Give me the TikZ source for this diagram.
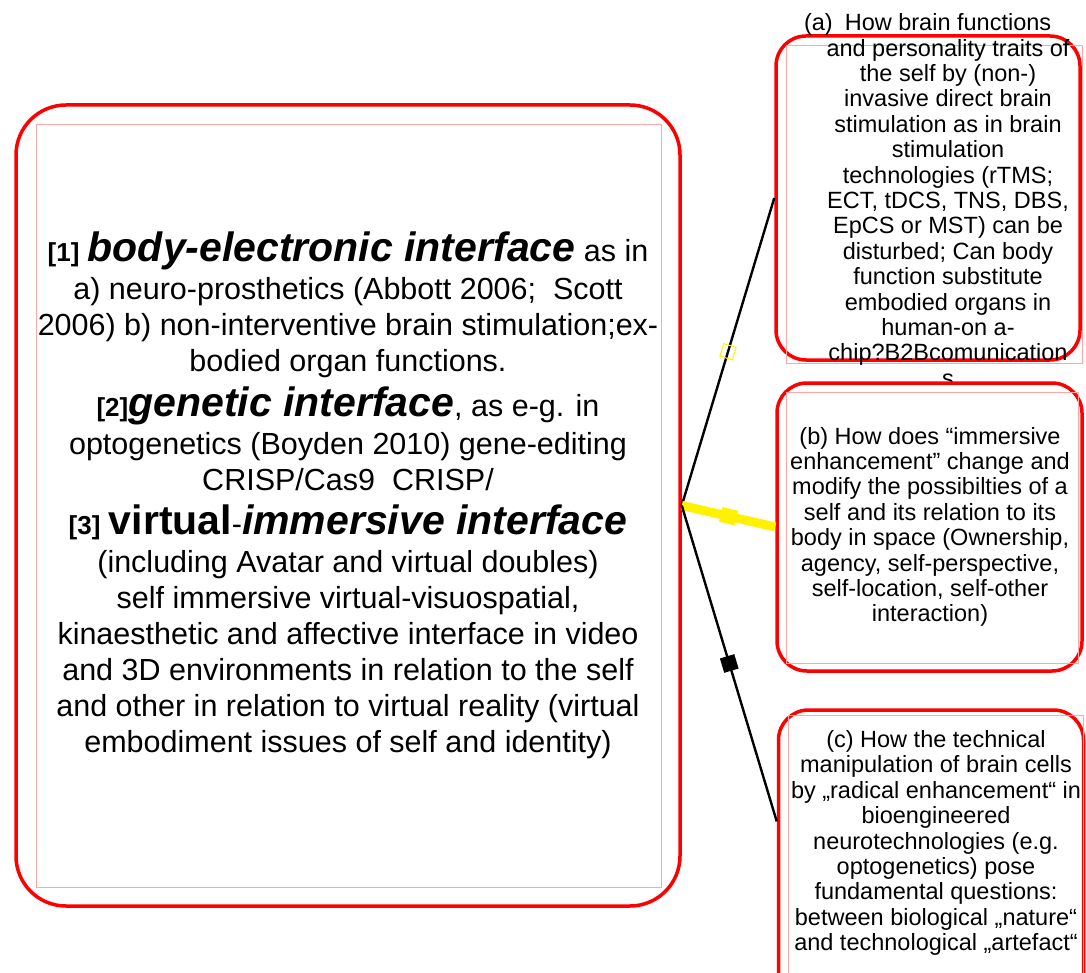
\documentclass[tikz,border=0pt]{standalone}
\usepackage{fontspec}
\setmainfont{Liberation Sans}
\usetikzlibrary{calc}
\newcommand{\tagtxt}[1]{{\bfseries\fontsize{26}{36}\selectfont #1}}
\newcommand{\headtxt}[1]{{\bfseries\itshape\fontsize{41}{36}\selectfont #1}}
\newcommand{\uprighthead}[1]{{\bfseries\fontsize{41}{36}\selectfont #1}}
\begin{document}
\begin{tikzpicture}[x=1pt, y=-1pt,
    redbox/.style={draw=red, line width=3.5pt, rounded corners=#1, inner sep=0pt, fill=white},
    txtframe/.style={draw=red!35, line width=0.8pt},
    qtext/.style={align=center, inner sep=0pt, font=\fontsize{23.5}{25.4}\selectfont},
    blackline/.style={draw=black, line width=2.4pt},
    yellowline/.style={draw=yellow, line width=9pt}]
  \useasboundingbox (0,0) rectangle (1086,973);

  % left box
  \node[redbox=50pt, minimum width=664pt, minimum height=801pt] (main) at (348,505.5) {};
  \draw[txtframe] (36,124) rectangle (661,887);
  \node[align=center, inner sep=0pt, font=\fontsize{30.5}{36}\selectfont, yshift=10pt] (maintext) at (main.center) {%
    \tagtxt{[1]} \headtxt{body-electronic interface} as in\\[2pt]
    a) neuro-prosthetics (Abbott 2006;\ \ Scott\\
    2006) b) non-interventive brain stimulation;ex-\\
    bodied organ functions.\\[8pt]
    \tagtxt{[2]}\headtxt{genetic interface}, as e-g. in\\[2pt]
    optogenetics (Boyden 2010) gene-editing\\
    CRISP/Cas9\ \ CRISP/\\[8pt]
    \tagtxt{[3]} \uprighthead{virtual}-\headtxt{immersive interface}\\[2pt]
    (including Avatar and virtual doubles)\\
    self immersive virtual-visuospatial,\\
    kinaesthetic and affective interface in video\\
    and 3D environments in relation to the self\\
    and other in relation to virtual reality (virtual\\
    embodiment issues of self and identity)};

  % right boxes
  \node[redbox=30pt, minimum width=304pt, minimum height=324pt] (boxa) at (928,198) {};
  \draw[txtframe] (786,45) rectangle (1082,363);
  \node[qtext] (texta) at (948,200) {%
    \llap{(a)\hspace{12pt}}How brain functions\\
    and personality traits of\\
    the self by (non-)\\
    invasive direct brain\\
    stimulation as in brain\\
    stimulation\\
    technologies (rTMS;\\
    ECT, tDCS, TNS, DBS,\\
    EpCS or MST) can be\\
    disturbed; Can body\\
    function substitute\\
    embodied organs in\\
    human-on a-\\
    chip?B2Bcomunication\\
    s};

  \node[redbox=30pt, minimum width=305pt, minimum height=288pt] (boxb) at (929.5,527) {};
  \draw[txtframe] (786,392) rectangle (1078,663);
  \node[qtext] (textb) at (930,527) {%
    (b) How does “immersive\\
    enhancement” change and\\
    modify the possibilties of a\\
    self and its relation to its\\
    body in space (Ownership,\\
    agency, self-perspective,\\
    self-location, self-other\\
    interaction)};

  \node[redbox=30pt, minimum width=305pt, minimum height=300pt] (boxc) at (931,860) {};
  \draw[txtframe] (788,715) rectangle (1083,1000);
  \node[qtext] (textc) at (936,843) {%
    (c) How the technical\\
    manipulation of brain cells\\
    by „radical enhancement“ in\\
    bioengineered\\
    neurotechnologies (e.g.\\
    optogenetics) pose\\
    fundamental questions:\\
    between biological „nature“\\
    and technological „artefact“};

  % connectors
  \coordinate (cin) at ($(boxc.north west)!0.373!(boxc.south west)$);
  \draw[blackline] (main.east) -- node[sloped, draw=yellow, line width=1pt, minimum size=13pt, inner sep=0pt] (marka) {} (boxa.west);
  \draw[yellowline] (main.east) -- node[sloped, fill=yellow, minimum width=16pt, minimum height=15pt, inner sep=0pt] (markb) {} (boxb.west);
  \draw[blackline] (main.east) -- node[sloped, fill=black, minimum size=15pt, inner sep=0pt] (markc) {} (cin);
\end{tikzpicture}
\end{document}
